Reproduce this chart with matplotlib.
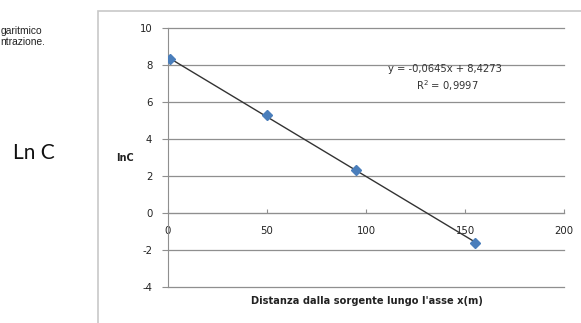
import matplotlib
matplotlib.use("Agg")
import matplotlib.pyplot as plt
from matplotlib.patches import Rectangle
import numpy as np

plt.rcParams["axes.unicode_minus"] = False
plt.rcParams["font.family"] = ["DejaVu Sans"]

# Data
distance = [1, 50, 95, 155]
lnC = [8.3, 5.3, 2.3, -1.6]
slope = -0.0645
intercept = 8.4273
eq_text = "y = -0,0645x + 8,4273"
r2_text = "R$^2$ = 0,9997"
x_ticks = [0, 50, 100, 150, 200]
y_ticks = [-4, -2, 0, 2, 4, 6, 8, 10]

fig = plt.figure(figsize=(5.81, 3.23), dpi=100)
fig.patch.set_facecolor("white")

# chart frame
fig.patches.append(Rectangle((98/581, -0.1), 1.0, 1 - 11/323 + 0.1,
                             transform=fig.transFigure, fill=False,
                             edgecolor="#c8c8c8", linewidth=1.2))

ax = fig.add_axes([167.7/581, 1 - 287/323, (564.3 - 167.7)/581, (287 - 28)/323])
ax.set_xlim(0, 200)
ax.set_ylim(-4, 10)
ax.set_yticks(y_ticks)
ax.set_xticks(x_ticks)
for yv in y_ticks:
    ax.axhline(yv, color="#8f8f8f", linewidth=0.9, zorder=0, clip_on=False)
for s in ["top", "right"]:
    ax.spines[s].set_visible(False)
ax.spines["left"].set_color("#8f8f8f")
ax.spines["bottom"].set_position(("data", 0))
ax.spines["bottom"].set_color("#8f8f8f")
ax.tick_params(axis="y", length=4, color="#8f8f8f", labelsize=7.3, pad=7, labelcolor="#222222")
ax.tick_params(axis="x", length=3, color="#8f8f8f", labelsize=7.3, pad=9, labelcolor="#222222", direction="in")

xs = np.array([distance[0], distance[-1]])
ax.plot(xs, slope * xs + intercept, color="#333333", linewidth=1.0, zorder=3)
ax.plot(distance, lnC, linestyle="none", marker="D", markersize=5,
        color="#4a7ebb", zorder=4)

fig.text(445/581, 1 - 69/323, eq_text, ha="center", va="center",
         fontsize=7.2, color="#333333")
fig.text(447/581, 1 - 86/323, r2_text, ha="center", va="center",
         fontsize=7.2, color="#333333")

fig.text(367/581, 1 - 301/323, "Distanza dalla sorgente lungo l'asse x(m)",
         ha="center", va="center", fontsize=7.1, fontweight="bold", color="#222222")
fig.text(125/581, 1 - 158/323, "lnC", ha="center", va="center",
         fontsize=7, fontweight="bold", color="#222222")

fig.text(34/581, 1 - 153/323, "Ln C", ha="center", va="center",
         fontsize=15, family=["Lato", "DejaVu Sans"], color="#111111")
fig.text(0.5/581, 1 - 31/323, "garitmico", ha="left", va="center",
         fontsize=7.4, family=["Liberation Sans", "DejaVu Sans"], color="#222222")
fig.text(0.5/581, 1 - 42/323, "ntrazione.", ha="left", va="center",
         fontsize=7.4, family=["Liberation Sans", "DejaVu Sans"], color="#222222")

fig.savefig("out.png", dpi=100)
